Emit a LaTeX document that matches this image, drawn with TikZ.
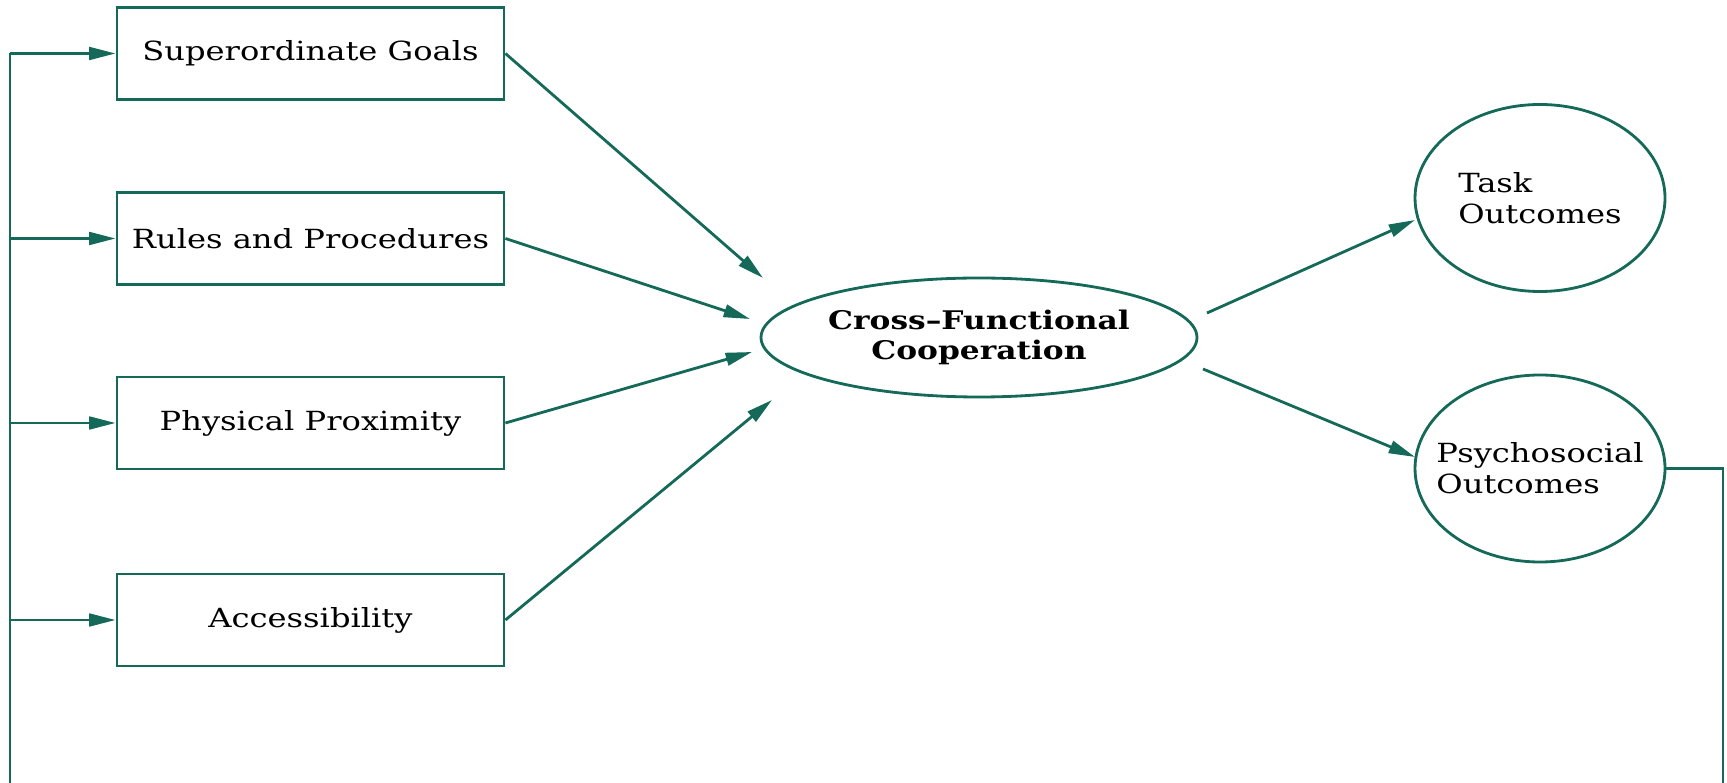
\documentclass[tikz,border=0pt]{standalone}
\usepackage{fontspec}
\setmainfont[FakeStretch=1.22]{DejaVu Serif}
\usetikzlibrary{arrows.meta,shapes.geometric}
\definecolor{lc}{RGB}{20,105,88}
\begin{document}
\begin{tikzpicture}[x=1cm,y=1cm,
  line width=0.8pt,
  conn/.style={draw=lc,-{Triangle[length=7.5pt,width=3.6pt]}},
  plain/.style={draw=lc},
  txt/.style={font=\fontsize{7.5}{8.8}\selectfont},
  box/.style={draw=lc, rectangle, minimum width=3.87cm, minimum height=0.92cm, inner sep=0pt, txt},
  oval/.style={draw=lc, ellipse, inner sep=0pt, minimum width=2.5cm, minimum height=1.87cm},
  inlbl/.style={txt, align=left, inner sep=0pt}]
\useasboundingbox (0,0) rectangle (17.27,-7.83);
% left boxes
\node[box] (sg) at (3.105,-0.535) {Superordinate Goals};
\node[box] (rp) at (3.105,-2.385) {Rules and Procedures};
\node[box] (pp) at (3.105,-4.23) {Physical Proximity};
\node[box] (ac) at (3.105,-6.20) {Accessibility};
% centre
\node[draw=lc, ellipse, inner sep=0pt, align=center, minimum width=4.36cm, minimum height=1.19cm,
      font=\bfseries\fontsize{7.3}{8.6}\selectfont] (cfc) at (9.79,-3.375)
      {Cross–Functional\\Cooperation};
% outcomes
\node[oval, label={[inlbl]center:{Task\\Outcomes}}] (task) at (15.40,-1.98) {};
\node[oval, label={[inlbl]center:{Psychosocial\\Outcomes}}] (psy) at (15.40,-4.685) {};
% coordinates
\coordinate (ltop) at (0.10,-0.535);
\coordinate (lbot) at (0.10,-7.83);
\coordinate (rpL) at (0.10,-2.385);
\coordinate (ppL) at (0.10,-4.23);
\coordinate (acL) at (0.10,-6.20);
\coordinate (rtop) at (17.23,-4.685);
\coordinate (rbot) at (17.23,-7.83);
\coordinate (tsg) at (7.63,-2.78);
\coordinate (trp) at (7.50,-3.19);
\coordinate (tpp) at (7.52,-3.52);
\coordinate (tac) at (7.72,-4.00);
\coordinate (s1) at (12.07,-3.13);
\coordinate (s2) at (12.03,-3.69);
\coordinate (ttask) at (14.15,-2.20);
\coordinate (tpsy) at (14.15,-4.57);
% feedback lines
\draw[plain] (lbot) -- (ltop);
\draw[conn] (ltop) -- (sg.west);
\draw[conn] (rpL) -- (rp.west);
\draw[conn] (ppL) -- (pp.west);
\draw[conn] (acL) -- (ac.west);
\draw[plain] (psy.east) -- (rtop) -- (rbot);
% inputs
\draw[conn] (sg.east) -- (tsg);
\draw[conn] (rp.east) -- (trp);
\draw[conn] (pp.east) -- (tpp);
\draw[conn] (ac.east) -- (tac);
% outputs
\draw[conn] (s1) -- (ttask);
\draw[conn] (s2) -- (tpsy);
\end{tikzpicture}
\end{document}
